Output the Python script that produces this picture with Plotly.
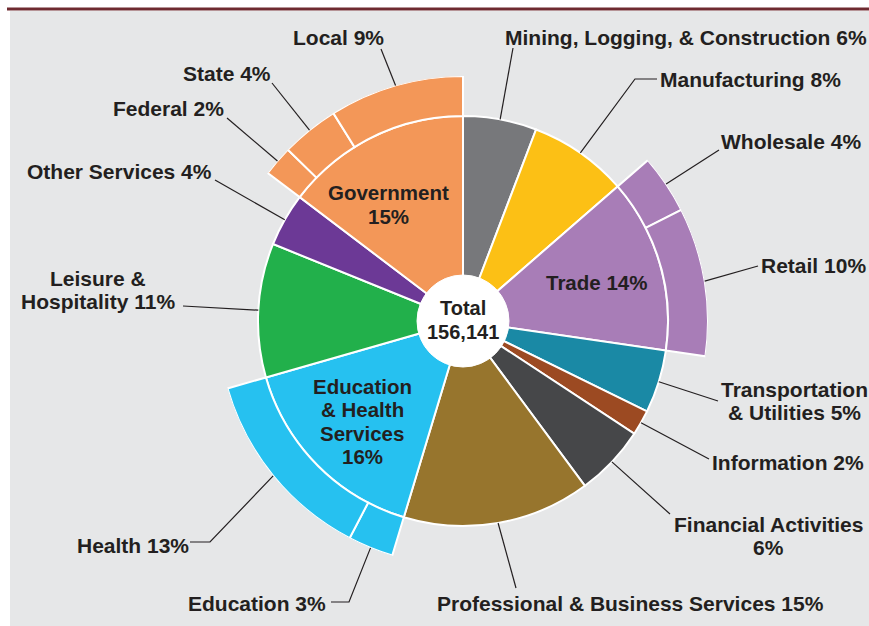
import math
import plotly.graph_objects as go

# ---------------- data (thousands of jobs) ----------------
sectors = ["Mining, Logging, & Construction", "Manufacturing", "Trade",
           "Transportation & Utilities", "Information", "Financial Activities",
           "Professional & Business Services", "Education & Health Services",
           "Leisure & Hospitality", "Other Services", "Government"]
sector_jobs = [9060, 12180, 21390, 7750, 3120, 8740, 23110, 24820, 16500, 6560, 22911]
sector_colors = ["#77787b", "#fcc015", "#a87db7", "#1a89a5", "#9c4a22", "#464749",
                 "#97752d", "#26c1f0", "#22b04b", "#6c3996", "#f39758"]

subsectors = ["Wholesale", "Retail", "Education", "Health", "Federal", "State", "Local"]
subsector_parent = ["Trade", "Trade", "Education & Health Services",
                    "Education & Health Services", "Government", "Government", "Government"]
subsector_jobs = [6090, 15300, 4680, 20140, 3120, 5930, 13861]

center_title = "Total"
total_jobs = sum(sector_jobs)

# label text (line breaks) for display
outer_display = {"Leisure & Hospitality": "Leisure &\nHospitality",
                 "Transportation & Utilities": "Transportation\n& Utilities",
                 "Financial Activities": "Financial Activities\n"}
inner_display = {"Government": "Government\n", "Trade": "Trade",
                 "Education & Health Services": "Education\n& Health\nServices\n"}

# ---------------- layout geometry (pixels) ----------------
W, H = 869, 626
CX, CY = 463, 321
R_HOLE, R_IN, R_OUT = 46, 205, 245
FS = 21
LINE_H = 23.5
TXT = "#231f20"
FONT = "Liberation Sans, Arial, Helvetica, sans-serif"

# label centre (x, y of first line) and leader-line path points (from slice outward)
outer_pos = {
    "Mining, Logging, & Construction": (686, 37, [(513, 48)]),
    "Manufacturing": (750, 79, [(635, 79), (657, 79)]),
    "Wholesale": (791, 141, [(719, 150)]),
    "Retail": (813, 265, [(758, 266)]),
    "Transportation & Utilities": (794, 389, [(718, 401)]),
    "Information": (788, 462, [(709, 459)]),
    "Financial Activities": (768, 524, [(670, 514)]),
    "Professional & Business Services": (630, 603, [(516, 588)]),
    "Education": (257, 603, [(349, 602), (331, 602)]),
    "Health": (133, 545, [(210, 542), (190, 542)]),
    "Leisure & Hospitality": (98, 278, [(183, 306)]),
    "Other Services": (120, 171, [(215, 180)]),
    "Federal": (168, 109, [(227, 118)]),
    "State": (227, 74, [(272, 83)]),
    "Local": (338, 37, [(381, 49)]),
}
inner_pos = {"Government": (388, 193), "Trade": (596, 283),
             "Education & Health Services": (362, 386)}


def px(x):
    return x / W


def py(y):
    return 1 - y / H


def pct(v):
    return int(round(v / total_jobs * 100))


# angles for sectors
sec_start, sec_width = {}, {}
cum = 0
for name, v in zip(sectors, sector_jobs):
    sec_start[name] = cum / total_jobs * 360
    sec_width[name] = v / total_jobs * 360
    cum += v

sub_start, sub_width = [], []
offset = {}
for name, par, v in zip(subsectors, subsector_parent, subsector_jobs):
    s = sec_start[par] + offset.get(par, 0)
    w = v / total_jobs * 360
    sub_start.append(s)
    sub_width.append(w)
    offset[par] = offset.get(par, 0) + w

color_of = dict(zip(sectors, sector_colors))

fig = go.Figure()
fig.add_trace(go.Barpolar(
    theta=[sec_start[n] + sec_width[n] / 2 for n in sectors],
    width=[sec_width[n] for n in sectors],
    r=[R_IN] * len(sectors), base=0,
    marker=dict(color=sector_colors, line=dict(color="white", width=2)),
    hoverinfo="skip", showlegend=False))
fig.add_trace(go.Barpolar(
    theta=[s + w / 2 for s, w in zip(sub_start, sub_width)],
    width=sub_width,
    r=[R_OUT - R_IN] * len(subsectors), base=R_IN,
    marker=dict(color=[color_of[p] for p in subsector_parent],
                line=dict(color="white", width=2)),
    hoverinfo="skip", showlegend=False))

shapes = [
    dict(type="rect", xref="paper", yref="paper", x0=px(10), x1=px(W), y0=py(11), y1=py(H),
         fillcolor="#e6e7e8", line=dict(width=0), layer="below"),
    dict(type="rect", xref="paper", yref="paper", x0=px(7), x1=px(W), y0=py(7.5), y1=py(10.5),
         fillcolor="#6e2a30", line=dict(width=0), layer="below"),
    dict(type="circle", xref="paper", yref="paper",
         x0=px(CX - R_HOLE), x1=px(CX + R_HOLE), y0=py(CY + R_HOLE), y1=py(CY - R_HOLE),
         fillcolor="white", line=dict(color="white", width=1)),
]
annotations = []


def add_lines(lines, x, y0, size=FS):
    for i, t in enumerate(lines):
        annotations.append(dict(xref="paper", yref="paper", x=px(x), y=py(y0 + i * LINE_H),
                                text=t, showarrow=False, xanchor="center", yanchor="middle",
                                font=dict(family=FONT, size=size, color=TXT, weight="bold")))


def leader(theta_deg, r, pts):
    a = math.radians(theta_deg)
    x0, y0 = CX + r * math.sin(a), CY - r * math.cos(a)
    path = f"M {px(x0)},{py(y0)}"
    for (x, y) in pts:
        path += f" L {px(x)},{py(y)}"
    shapes.append(dict(type="path", xref="paper", yref="paper", path=path,
                       line=dict(color=TXT, width=1.2)))


# sector labels (inside for split sectors, outside with leader otherwise)
for n, v in zip(sectors, sector_jobs):
    if n in inner_display:
        txt = inner_display[n]
        txt = txt + ("" if txt.endswith("\n") else " ") + f"{pct(v)}%"
        x, y = inner_pos[n]
        add_lines(txt.split("\n"), x, y, size=20.5)
        continue
    d = outer_display.get(n, n)
    txt = d + ("" if d.endswith("\n") else " ") + f"{pct(v)}%"
    x, y, pts = outer_pos[n]
    add_lines(txt.split("\n"), x, y)
    leader(sec_start[n] + sec_width[n] / 2, R_IN, pts)

for n, v, s, w in zip(subsectors, subsector_jobs, sub_start, sub_width):
    x, y, pts = outer_pos[n]
    add_lines([f"{n} {pct(v)}%"], x, y)
    leader(s + w / 2, R_OUT, pts)

# centre
add_lines([center_title, f"{total_jobs:,}"], CX, CY - 13, size=20)

fig.update_layout(
    width=W, height=H, autosize=False,
    margin=dict(l=0, r=0, t=0, b=0),
    paper_bgcolor="white",
    showlegend=False,
    shapes=shapes, annotations=annotations,
    polar=dict(
        domain=dict(x=[px(CX - R_OUT), px(CX + R_OUT)], y=[py(CY + R_OUT), py(CY - R_OUT)]),
        bgcolor="rgba(0,0,0,0)",
        barmode="overlay",
        radialaxis=dict(visible=False, range=[0, R_OUT]),
        angularaxis=dict(visible=False, rotation=90, direction="clockwise"),
    ),
)

fig.write_html("out.html", config={"displayModeBar": False},
               post_script="document.body.style.margin='0';document.body.style.overflow='hidden';")
